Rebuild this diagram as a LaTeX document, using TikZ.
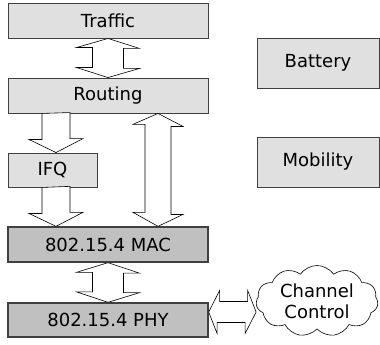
\documentclass[tikz,border=0pt]{standalone}
\usepackage{fontspec}
\setmainfont{DejaVu Sans}
\usetikzlibrary{shapes.symbols,calc}
\definecolor{lightbox}{HTML}{E0E0E0}
\definecolor{darkbox}{HTML}{C0C0C0}
\definecolor{edge}{HTML}{404040}
\begin{document}
\begin{tikzpicture}[x=1pt,y=-1pt,
  font=\fontsize{18}{21}\selectfont,
  lbox/.style={draw=edge,fill=lightbox,line width=0.9pt,rectangle,inner sep=0pt,minimum width=200pt,minimum height=35pt},
  dbox/.style={draw=edge,fill=darkbox,line width=1.3pt,rectangle,inner sep=0pt,minimum width=200pt,minimum height=35pt},
  fat/.style={draw=black,fill=white,line width=0.6pt,line join=miter}]
\useasboundingbox (0,0) rectangle (380,345);
\node[lbox] (traffic) at (108,20.5) {Traffic};
\node[lbox] (routing) at (108,95.5) {Routing};
\node[lbox,minimum width=89pt,minimum height=34pt] (ifq) at (52.5,170) {IFQ};
\node[dbox] (mac) at (108,244.5) {802.15.4 MAC};
\node[dbox,minimum height=34pt] (phy) at (108,320) {802.15.4 PHY};
\node[lbox,minimum width=122pt,minimum height=50pt] (battery) at (318,63) {Battery};
\node[lbox,minimum width=122pt,minimum height=50pt] (mobility) at (318,162) {Mobility};
\node[draw=black,line width=0.6pt,cloud,cloud puffs=11,cloud puff arc=110,aspect=1.8,minimum width=122pt,minimum height=66pt,inner sep=0pt,align=center,font=\fontsize{18}{21}\selectfont] (cloud) at (317,301) {Channel\\Control};
% Traffic <-> Routing
\draw[fat] (traffic.south) -- ++(31.5,10) -- ++(-16,0) -- ++(0,20) -- ++(16,0) -- (routing.north)
  -- ++(-31.5,-10) -- ++(16,0) -- ++(0,-20) -- ++(-16,0) -- cycle;
% Routing -> IFQ
\coordinate (r1) at (routing.south -| 56,0);
\coordinate (i1) at (ifq.north -| 56,0);
\draw[fat] (r1) ++(-14,0) -- ++(0,26) -- ++(-13,0) -- (i1) -- ++(27,-14) -- ++(-13,0) -- ++(0,-26) -- cycle;
% IFQ -> MAC
\coordinate (i2) at (ifq.south -| 56,0);
\coordinate (m1) at (mac.north -| 56,0);
\draw[fat] (i2) ++(-14,0) -- ++(0,26) -- ++(-13,0) -- (m1) -- ++(27,-14) -- ++(-13,0) -- ++(0,-26) -- cycle;
% Routing <-> MAC
\coordinate (r2) at (routing.south -| 158,0);
\coordinate (m2) at (mac.north -| 158,0);
\draw[fat] (r2) -- ++(25,13) -- ++(-12,0) -- ++(0,88) -- ++(12,0) -- (m2)
  -- ++(-25,-14) -- ++(12,0) -- ++(0,-88) -- ++(-12,0) -- cycle;
% MAC <-> PHY
\draw[fat] (mac.south) -- ++(31.5,10.5) -- ++(-16,0) -- ++(0,19.5) -- ++(16,0) -- (phy.north)
  -- ++(-31.5,-10.5) -- ++(16,0) -- ++(0,-19.5) -- ++(-16,0) -- cycle;
% PHY <-> Channel Control
\coordinate (p1) at (phy.east |- 0,312);
\coordinate (c1) at (cloud.west |- 0,312);
\draw[fat] (p1) -- ++(11,-21.5) -- ++(0,11) -- ++(28,0) -- ++(0,-11) -- (c1)
  -- ++(-11,21.5) -- ++(0,-11) -- ++(-28,0) -- ++(0,11) -- cycle;
\end{tikzpicture}
\end{document}
